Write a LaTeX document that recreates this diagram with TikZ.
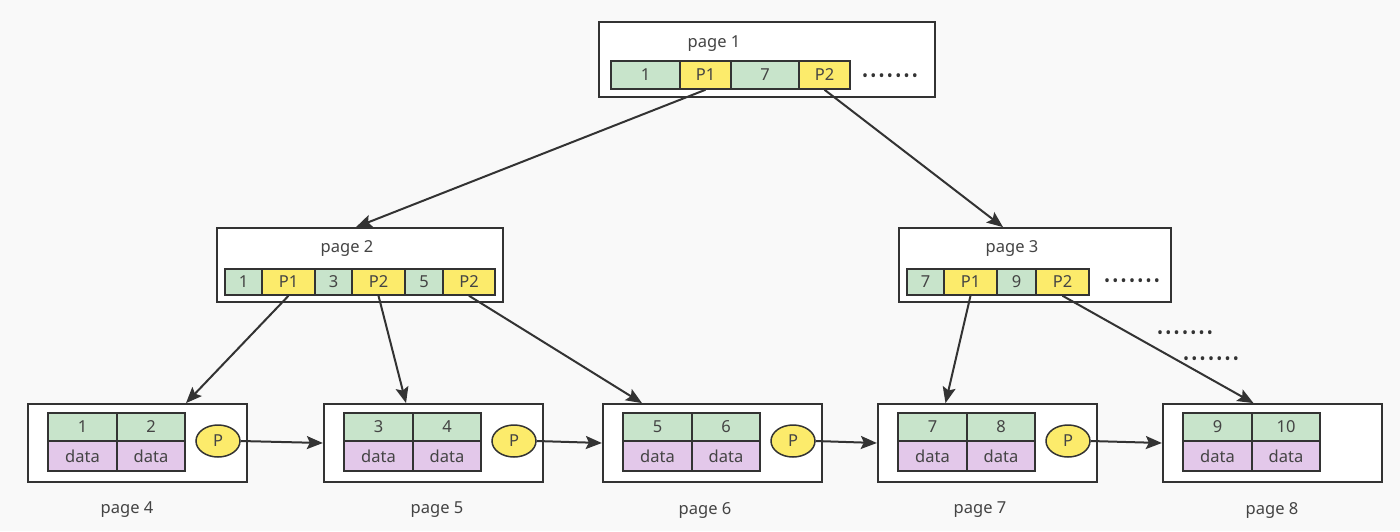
\documentclass[tikz,border=0pt]{standalone}
\usepackage{fontspec}
\setmainfont{Noto Sans}
\usetikzlibrary{arrows.meta,calc,shapes.geometric}
\definecolor{bg}{HTML}{F9F9F9}
\definecolor{ln}{HTML}{333333}
\definecolor{tx}{HTML}{444444}
\definecolor{kgreen}{HTML}{C8E4CB}
\definecolor{kyellow}{HTML}{FCEB6B}
\definecolor{kpurple}{HTML}{E3C8EA}
\newcommand\rowdots{{\fontsize{16}{16}\selectfont\color{ln}•\kern2.3pt•\kern2.3pt•\kern2.3pt•\kern2.3pt•\kern2.3pt•\kern2.3pt•}}
\begin{document}
\begin{tikzpicture}[x=1pt,y=-1pt,
  every node/.style={font=\fontsize{16.5}{19}\selectfont, text=tx},
  pagebox/.style={draw=ln, line width=1.8pt, fill=white, inner sep=0pt},
  cell/.style={draw=ln, line width=1.5pt, inner sep=0pt},
  keyc/.style={cell, fill=kgreen},
  ptrc/.style={cell, fill=kyellow},
  datc/.style={cell, fill=kpurple},
  pell/.style={ellipse, draw=ln, line width=1.5pt, fill=kyellow, inner sep=0pt, minimum width=44pt, minimum height=32pt},
  arr/.style={draw=ln, line width=2pt, -{Stealth[length=16pt,width=13pt,inset=3pt]}}
]
\path[use as bounding box, fill=bg] (0,0) rectangle (1400,531);

% page 1
\node[pagebox, minimum width=336pt, minimum height=75pt] (pg1) at (767,59.5) {};
\node (t1) at (714,44) {page 1};
\begin{scope}[every node/.append style={minimum height=28pt}]
\node[keyc, minimum width=69pt] (a1) at (645.5,75) {1};
\node[ptrc, minimum width=51pt] (a2) at (705.5,75) {P1};
\node[keyc, minimum width=68pt] (a3) at (765,75) {7};
\node[ptrc, minimum width=51pt] (a4) at (824.5,75) {P2};
\end{scope}
\node[inner sep=0pt] (d1) at (890,78) {\rowdots};

% page 2
\node[pagebox, minimum width=286pt, minimum height=74pt] (pg2) at (360,265) {};
\node (t2) at (347,248) {page 2};
\begin{scope}[every node/.append style={minimum height=26pt}]
\node[keyc, minimum width=37pt] (b1) at (243.5,282) {1};
\node[ptrc, minimum width=53pt] (b2) at (288.5,282) {P1};
\node[keyc, minimum width=37pt] (b3) at (333.5,282) {3};
\node[ptrc, minimum width=53pt] (b4) at (378.5,282) {P2};
\node[keyc, minimum width=38pt] (b5) at (424,282) {5};
\node[ptrc, minimum width=52pt] (b6) at (469,282) {P2};
\end{scope}

% page 3
\node[pagebox, minimum width=272pt, minimum height=74pt] (pg3) at (1035,265) {};
\node (t3) at (1012,248) {page 3};
\begin{scope}[every node/.append style={minimum height=26pt}]
\node[keyc, minimum width=37pt] (c1) at (925.5,282) {7};
\node[ptrc, minimum width=53pt] (c2) at (970.5,282) {P1};
\node[keyc, minimum width=39pt] (c3) at (1016.5,282) {9};
\node[ptrc, minimum width=53pt] (c4) at (1062.5,282) {P2};
\end{scope}
\node[inner sep=0pt] (d3) at (1132,283) {\rowdots};
\node[inner sep=0pt] (d4) at (1185,335) {\rowdots};
\node[inner sep=0pt] (d5) at (1211,361) {\rowdots};

% leaves
\foreach \n/\L/\a/\b/\lx in {4/28/1/2/127, 5/324/3/4/437, 6/603/5/6/705, 7/878/7/8/980, 8/1163/9/10/1272}{
  \node[pagebox, minimum width=219.5pt, minimum height=78pt] (l\n) at (\L+109.5,443) {};
  \node[keyc, minimum width=69pt, minimum height=28pt] (k\n a) at (\L+54.5,427) {\a};
  \node[keyc, minimum width=68pt, minimum height=28pt] (k\n b) at (\L+123,427) {\b};
  \node[datc, minimum width=69pt, minimum height=30pt] (v\n a) at (\L+54.5,456) {data};
  \node[datc, minimum width=68pt, minimum height=30pt] (v\n b) at (\L+123,456) {data};
  \node (lab\n) at (\lx,510) {page \n};
  \ifnum\n<8
    \node[pell] (e\n) at (\L+190,441) {P};
  \fi
}

% connectors
\draw[arr] (a2.south) -- ([xshift=-4pt]pg2.north);
\draw[arr] (a4.south) -- ([xshift=-32pt]pg3.north);
\draw[arr] (b2.south) -- ([xshift=48.5pt]l4.north);
\draw[arr] (b4.south) -- ([xshift=-27.5pt]l5.north);
\draw[arr] (b6.south) -- ([xshift=-70.5pt]l6.north);
\draw[arr] (c2.south) -- ([xshift=-42pt]l7.north);
\draw[arr] (c4.south) -- ([xshift=-19pt]l8.north);
\draw[arr] (e4.east) -- (l5.west);
\draw[arr] (e5.east) -- (l6.west);
\draw[arr] (e6.east) -- (l7.west);
\draw[arr] (e7.east) -- (l8.west);
\end{tikzpicture}
\end{document}
